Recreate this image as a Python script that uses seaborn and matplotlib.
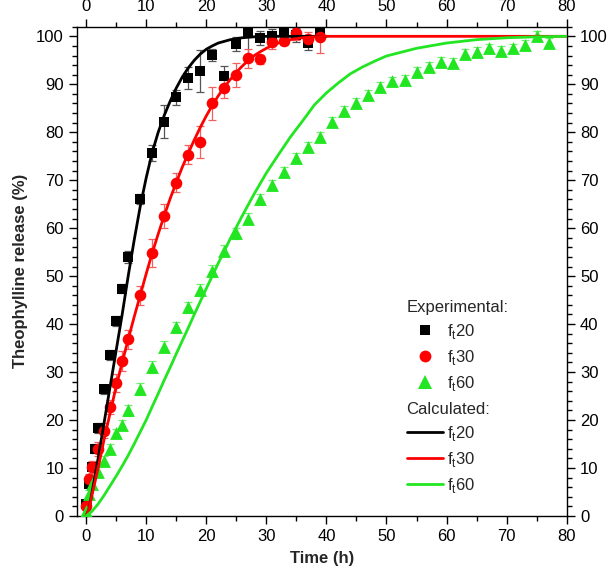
import matplotlib
matplotlib.use("Agg")
import matplotlib.pyplot as plt
from matplotlib.lines import Line2D
from matplotlib.ticker import MultipleLocator
import seaborn as sns

# Experimental data, f_t 20
t_exp20 = [0, 0.5, 1, 1.5, 2, 3, 4, 5, 6, 7, 9, 11, 13, 15, 17, 19, 21, 23, 25, 27,
           29, 31, 33, 35, 37, 39]
rel_exp20 = [2.5, 6.7, 10.1, 14.0, 18.3, 26.4, 33.5, 40.6, 47.4, 54.0, 66.1, 75.7, 82.2,
             87.3, 91.4, 92.7, 96.1, 91.8, 98.4, 100.7, 99.6, 100.0, 101.0, 100.3, 98.6,
             100.7]
err_exp20 = [0.5, 0.6, 0.8, 0.9, 1.0, 1.0, 1.0, 1.0, 1.0, 1.2, 1.0, 1.6, 3.5, 1.6, 2.3,
             4.4, 1.3, 2.0, 1.5, 5.5, 1.5, 1.5, 1.5, 1.5, 1.5, 1.5]

# Experimental data, f_t 30
t_exp30 = [0, 0.5, 1, 2, 3, 4, 5, 6, 7, 9, 11, 13, 15, 17, 19, 21, 23, 25, 27, 29, 31,
           33, 35, 37, 39]
rel_exp30 = [2.0, 7.8, 10.2, 14.0, 17.8, 22.7, 27.7, 32.3, 36.8, 46.0, 54.8, 62.5, 69.5,
             75.3, 78.0, 86.0, 89.2, 92.0, 95.4, 95.2, 98.9, 99.1, 100.7, 99.5, 99.8]
err_exp30 = [0.8, 1.0, 1.2, 1.5, 1.5, 1.5, 1.8, 2.0, 2.0, 2.0, 3.0, 2.5, 2.0, 2.0, 3.3,
             3.5, 2.0, 2.5, 2.0, 1.0, 1.5, 1.0, 1.5, 1.5, 3.3]

# Experimental data, f_t 60
t_exp60 = [0, 0.5, 1, 2, 3, 4, 5, 6, 7, 9, 11, 13, 15, 17, 19, 21, 23, 25, 27, 29, 31,
           33, 35, 37, 39, 41, 43, 45, 47, 49, 51, 53, 55, 57, 59, 61, 63, 65, 67, 69,
           71, 73, 75, 77]
rel_exp60 = [1.0, 4.6, 6.7, 9.1, 11.4, 14.0, 17.2, 18.9, 22.0, 26.5, 31.0, 35.3, 39.3,
             43.5, 47.1, 51.1, 55.3, 58.9, 62.0, 66.0, 69.0, 71.8, 74.6, 77.0, 79.1, 82.2,
             84.5, 86.1, 87.8, 89.5, 90.6, 90.9, 92.6, 93.6, 94.7, 94.5, 96.3, 96.7, 97.5,
             97.0, 97.5, 98.2, 100.1, 98.7]
err_exp60 = [0.5, 0.8, 0.8, 1.0, 1.0, 1.0, 1.0, 1.0, 1.2, 1.2, 1.2, 1.2, 1.2, 1.2, 1.2,
             1.2, 1.2, 1.2, 1.2, 1.2, 1.0, 1.0, 1.0, 1.0, 1.0, 1.0, 1.0, 1.0, 1.0, 1.0,
             1.0, 1.0, 1.0, 1.0, 1.0, 1.0, 1.0, 1.0, 1.0, 1.0, 1.0, 1.0, 1.0, 1.0]

# Calculated curves
t_calc20 = [0, 0.5, 1, 2, 3, 4, 5, 6, 7, 8, 9, 10, 11, 12, 13, 14, 15, 16, 17, 18, 19,
            20, 21, 22, 24, 26, 28, 30, 35, 40]
rel_calc20 = [0, 1.5, 5.0, 12.0, 19.5, 27.0, 34.5, 42.0, 50.0, 57.5, 64.5, 70.5, 75.8,
              80.0, 83.5, 86.5, 89.2, 91.5, 93.4, 95.0, 96.3, 97.3, 98.0, 98.6, 99.3,
              99.7, 99.9, 100.0, 100.0, 100.0]

t_calc30 = [0, 0.5, 1, 2, 3, 4, 5, 6, 7, 8, 9, 10, 11, 12, 13, 14, 15, 16, 17, 18, 19,
            20, 21, 22, 23, 24, 25, 26, 27, 28, 29, 30, 31, 32, 34, 36, 38, 40, 60, 80]
rel_calc30 = [0, 1.5, 4.5, 10.0, 16.0, 21.5, 27.0, 32.0, 36.8, 41.5, 46.0, 50.5, 54.8,
              58.8, 62.6, 66.2, 69.5, 72.7, 75.6, 78.4, 81.0, 83.4, 85.6, 87.6, 89.4,
              91.0, 92.5, 93.8, 95.0, 96.0, 96.8, 97.5, 98.1, 98.6, 99.3, 99.7, 99.9,
              100.0, 100.0, 100.0]

t_calc60 = [0, 1, 2, 3, 4, 5, 6, 7, 8, 9, 10, 11, 12, 13, 14, 15, 16, 17, 18, 19, 20,
            22, 24, 26, 28, 30, 32, 34, 36, 38, 40, 42, 44, 46, 48, 50, 55, 60, 65, 70,
            75, 80]
rel_calc60 = [0, 1.0, 2.5, 4.3, 6.3, 8.3, 10.4, 12.6, 15.0, 17.5, 20.0, 22.8, 25.5, 28.3,
              31.0, 33.8, 36.5, 39.2, 42.0, 44.7, 47.4, 52.7, 57.8, 62.6, 67.2, 71.5,
              75.3, 79.0, 82.3, 85.7, 88.2, 90.3, 92.2, 93.6, 94.8, 95.9, 97.5, 98.6,
              99.3, 99.7, 99.9, 100.0]

labels = [r"f$_\mathregular{t}$20", r"f$_\mathregular{t}$30", r"f$_\mathregular{t}$60"]
colors = ["#000000", "#ff0000", "#22e622"]
err_colors = ["#555555", "#f06060", "#70ee70"]
markers = ["s", "o", "^"]
msizes = [52, 70, 85]

sns.set_theme(style="ticks")
plt.rcParams["font.family"] = ["Liberation Sans", "DejaVu Sans"]
plt.rcParams["mathtext.fontset"] = "custom"
plt.rcParams["mathtext.rm"] = "Liberation Sans"
plt.rcParams["font.size"] = 12

fig = plt.figure(figsize=(6.12, 5.81), dpi=100)
ax = fig.add_axes([0.126, 0.112, 0.8, 0.842])

exp_sets = [(t_exp20, rel_exp20, err_exp20), (t_exp30, rel_exp30, err_exp30),
            (t_exp60, rel_exp60, err_exp60)]
calc_sets = [(t_calc20, rel_calc20), (t_calc30, rel_calc30), (t_calc60, rel_calc60)]

for i, (t, r, e) in enumerate(exp_sets):
    ax.errorbar(t, r, yerr=e, fmt="none", ecolor=err_colors[i], elinewidth=0.9,
                capsize=3, capthick=0.9, zorder=2)
    sns.scatterplot(x=t, y=r, marker=markers[i], color=colors[i], s=msizes[i],
                    linewidth=0, ax=ax, zorder=3)

for i, (t, r) in enumerate(calc_sets):
    sns.lineplot(x=t, y=r, color=colors[i], lw=2.0, ax=ax, zorder=4)

ax.set_xlim(-1.5, 80)
ax.set_ylim(0, 102)
ax.xaxis.set_major_locator(MultipleLocator(10))
ax.xaxis.set_minor_locator(MultipleLocator(5))
ax.yaxis.set_major_locator(MultipleLocator(10))
ax.yaxis.set_minor_locator(MultipleLocator(2))
ax.tick_params(which="both", direction="out", top=True, right=True,
               labeltop=True, labelright=True, colors="black", width=1.0,
               labelsize=12)
ax.tick_params(which="major", length=6)
ax.tick_params(which="minor", length=3.5)
for sp in ax.spines.values():
    sp.set_color("black")
    sp.set_linewidth(1.0)

ax.set_xlabel("Time (h)", fontsize=12, fontweight="bold", labelpad=5)
ax.set_ylabel("Theophylline release (%)", fontsize=12, fontweight="bold", labelpad=6)

# two stacked legends: experimental markers and calculated lines
exp_handles = [Line2D([], [], ls="none", marker=markers[i], color=colors[i],
                      markersize=[7.5, 8.5, 9.5][i], markeredgewidth=0)
               for i in range(3)]
calc_handles = [Line2D([], [], color=colors[i], lw=2.0) for i in range(3)]

leg_kw = dict(loc="upper left", frameon=False, fontsize=12, title_fontsize=12,
              alignment="left", handlelength=2.2, handletextpad=0.25,
              labelspacing=0.42, borderpad=0, borderaxespad=0)
leg1 = ax.legend(exp_handles, labels, title="Experimental:",
                 bbox_to_anchor=(0.673, 0.441), **leg_kw)
ax.add_artist(leg1)
ax.legend(calc_handles, labels, title="Calculated:",
          bbox_to_anchor=(0.673, 0.233), **leg_kw)

fig.savefig("out.png", dpi=100)
plt.close(fig)
